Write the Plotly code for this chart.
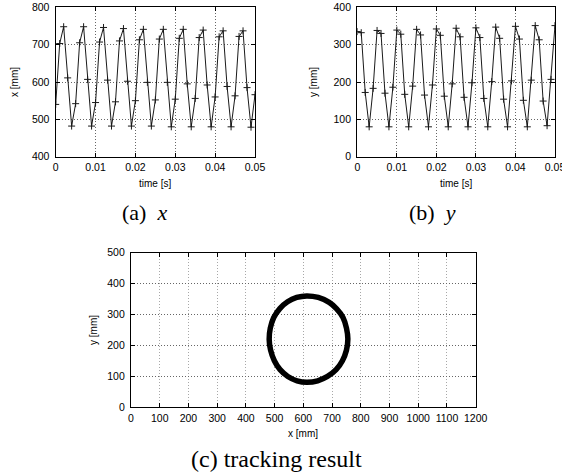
import plotly.graph_objects as go

W, H = 562, 474

# time samples (s)
time_s = [round(i * 0.001, 3) for i in range(51)]

# (a) x position [mm]
x_mm = [540, 703, 748, 611, 482, 542, 705, 748, 607, 482,
        545, 707, 746, 605, 482, 547, 710, 743, 602, 482,
        550, 713, 741, 599, 482, 552, 715, 741, 599, 480,
        554, 717, 741, 595, 480, 556, 719, 739, 592, 480,
        560, 721, 737, 588, 480, 563, 722, 737, 585, 479,
        566]

# (b) y position [mm]
y_mm = [335, 332, 172, 80, 183, 338, 330, 170, 80, 186,
        339, 328, 167, 80, 189, 341, 326, 165, 80, 192,
        342, 325, 162, 80, 195, 344, 321, 159, 80, 198,
        345, 319, 156, 80, 201, 347, 317, 154, 80, 203,
        349, 315, 151, 80, 205, 351, 313, 149, 83, 207,
        351]

# (c) tracked trajectory (x, y) [mm]
traj_x = [612, 652, 690, 716, 738, 750, 755, 750, 736, 714, 684, 650,
          612, 578, 546, 519, 499, 486, 481, 485, 497, 518, 545, 577, 612]
traj_y = [360, 355, 339, 318, 290, 256, 220, 184, 150, 121, 99, 85,
          80, 85, 99, 121, 150, 184, 220, 256, 290, 319, 341, 355, 360]

a_xticks = [0, 0.01, 0.02, 0.03, 0.04, 0.05]
a_yticks = [400, 500, 600, 700, 800]
b_yticks = [0, 100, 200, 300, 400]
c_xticks = list(range(0, 1201, 100))
c_yticks = [0, 100, 200, 300, 400, 500]

SANS = "Liberation Sans"
SERIF = "Liberation Serif"


def px_x(a, b):
    return [a / W, b / W]


def px_y(top, bottom):
    return [1 - bottom / H, 1 - top / H]


fig = go.Figure()

line_style = dict(color="#1a1a1a", width=1)
marker_style = dict(symbol="cross-thin-open", size=5, line=dict(color="black", width=1))

fig.add_trace(go.Scatter(x=time_s, y=x_mm, mode="lines+markers", line=line_style,
                         marker=marker_style, xaxis="x", yaxis="y", showlegend=False))
fig.add_trace(go.Scatter(x=time_s, y=y_mm, mode="lines+markers", line=line_style,
                         marker=marker_style, xaxis="x2", yaxis="y2", showlegend=False))
fig.add_trace(go.Scatter(x=traj_x, y=traj_y, mode="lines", line=dict(color="black", width=5.5, shape="spline"),
                         xaxis="x3", yaxis="y3", showlegend=False))

axis_common = dict(
    automargin=False, ticklabeloverflow="allow",
    showline=True, linecolor="black", linewidth=1.3, mirror="ticks",
    ticks="inside", ticklen=4, tickwidth=1, tickcolor="black",
    showgrid=True, gridcolor="#666666", griddash="1px,2px", gridwidth=1,
    zeroline=False, tickfont=dict(family=SANS, size=10.5, color="black"),
)
xstand = dict(ticklabelstandoff=1)
ystand = dict(ticklabelstandoff=3)

fig.update_layout(
    width=W, height=H, margin=dict(l=0, r=0, t=0, b=0, autoexpand=False),
    paper_bgcolor="white", plot_bgcolor="white",
    xaxis=dict(domain=px_x(55.7, 255), range=[0, 0.05], tickvals=a_xticks, anchor="y", **axis_common, **xstand),
    yaxis=dict(domain=px_y(7.3, 156.7), range=[400, 800], tickvals=a_yticks, anchor="x", **axis_common, **ystand),
    xaxis2=dict(domain=px_x(357.3, 555), range=[0, 0.05], tickvals=a_xticks, anchor="y2", **axis_common, **xstand),
    yaxis2=dict(domain=px_y(7.3, 156.7), range=[0, 400], tickvals=b_yticks, anchor="x2", **axis_common, **ystand),
    xaxis3=dict(domain=px_x(131, 475.7), range=[0, 1200], tickvals=c_xticks, anchor="y3", **axis_common, **xstand),
    yaxis3=dict(domain=px_y(252.7, 407), range=[0, 500], tickvals=c_yticks, anchor="x3", **axis_common, **ystand),
)
fig.update_layout(xaxis3_gridcolor="#a8a8a8")

ann = []


def label(text, x, y, size, family=SANS, angle=0):
    ann.append(dict(text=text, x=x / W, y=1 - y / H, xref="paper", yref="paper",
                    showarrow=False, textangle=angle, xanchor="center", yanchor="middle",
                    font=dict(family=family, size=size, color="black")))


label("x [mm]", 14, 82, 10, angle=-90)
label("time [s]", 155.4, 183, 10)
label("(a)&nbsp;&nbsp;<i>x</i>", 144, 212, 22, family=SERIF)
label("y [mm]", 313, 82, 10, angle=-90)
label("time [s]", 455.6, 183, 10)
label("(b)&nbsp;&nbsp;<i>y</i>", 432, 212, 22, family=SERIF)
label("y [mm]", 93, 330, 10, angle=-90)
label("x [mm]", 303, 433, 10)
label("(c) tracking result", 276, 459, 24, family=SERIF)

fig.update_layout(annotations=ann)

fig.write_html("out.html")
